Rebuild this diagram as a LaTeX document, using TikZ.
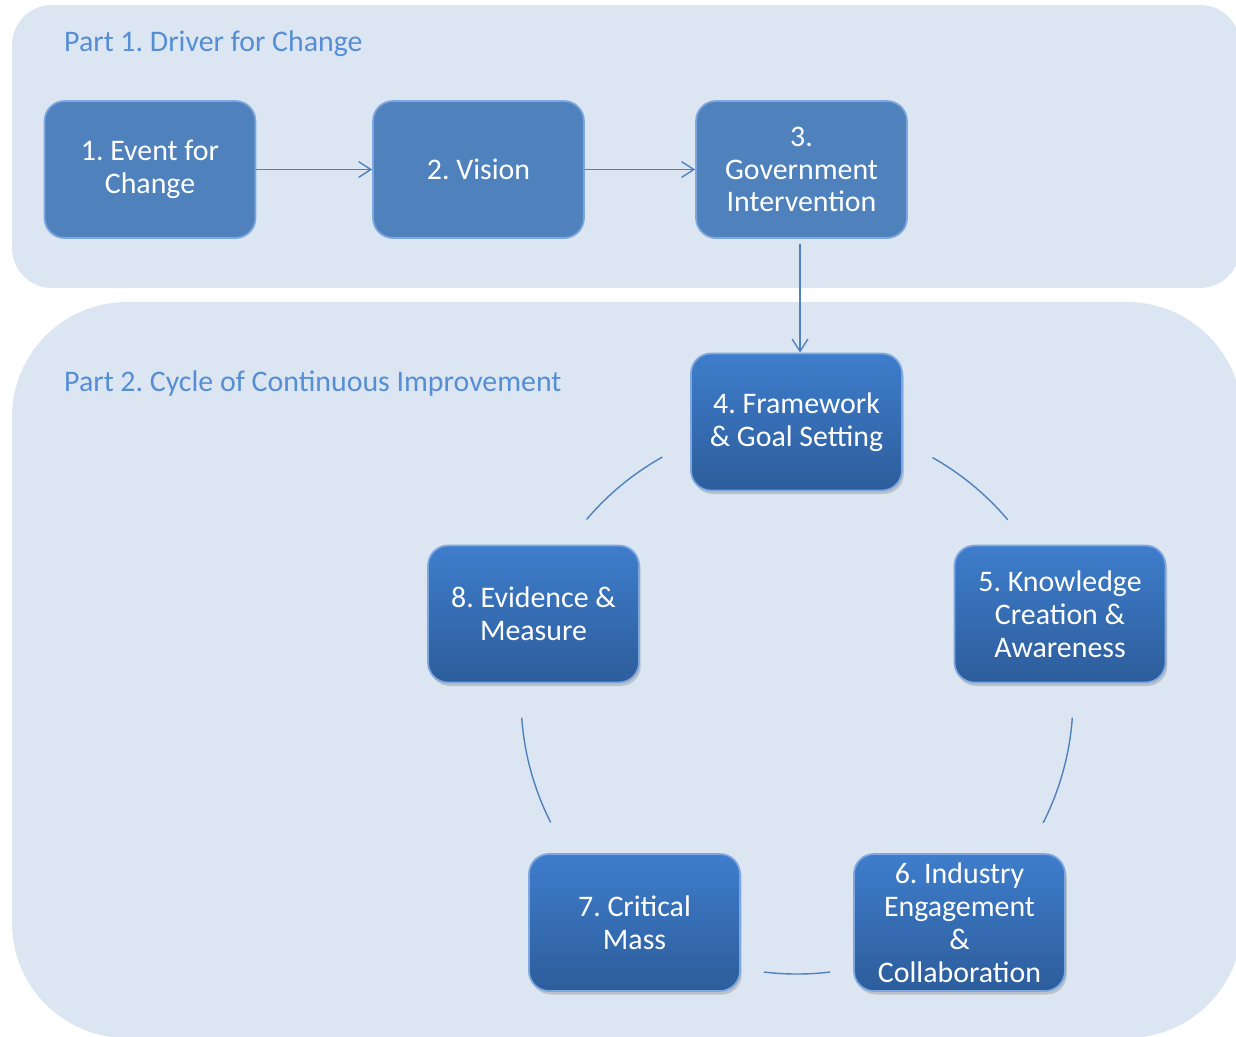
\documentclass[tikz,border=0pt]{standalone}
\usepackage{fontspec}
\setmainfont{Carlito}
\frenchspacing
\usetikzlibrary{arrows.meta, shadows}
\definecolor{panelbg}{RGB}{220,230,242}
\definecolor{titleblue}{RGB}{85,142,213}
\definecolor{boxblue}{RGB}{79,129,189}
\definecolor{boxedge}{RGB}{125,167,222}
\definecolor{cycletop}{RGB}{62,125,204}
\definecolor{cyclebot}{RGB}{45,93,155}
\definecolor{linkblue}{RGB}{79,129,189}
\tikzset{
  panel/.style={fill=panelbg},
  parttitle/.style={anchor=west, text=titleblue, font=\fontsize{17}{19}\selectfont},
  drivebox/.style={rectangle, rounded corners=0.4cm, minimum width=4.22cm, minimum height=2.74cm,
    fill=boxblue, draw=boxedge, line width=1pt, text=white, align=center,
    font=\fontsize{17}{18.7}\selectfont, inner sep=1pt},
  cyclebox/.style={drivebox, top color=cycletop, bottom color=cyclebot,
    drop shadow={opacity=0.35, shadow xshift=1pt, shadow yshift=-2pt}},
  link/.style={draw=linkblue, line width=0.8pt},
  flow/.style={link, -{Straight Barb[length=7pt, width=9pt]}}
}

\begin{document}
\begin{tikzpicture}[x=0.02cm, y=-0.02cm]
\useasboundingbox (0,0) rectangle (1236,1036);
% the two panels
\fill[panel, rounded corners=0.8cm] (12,5) rectangle (1240,288);
\fill[panel, rounded corners=2.3cm] (12,302) rectangle (1242,1038);
\node[parttitle] (t1) at (58,44) {Part 1. Driver for Change};
\node[parttitle] (t2) at (58,384) {Part 2. Cycle of Continuous Improvement};

% part 1
\node[drivebox] (b1) at (150,169.5) {1. Event for\\Change};
\node[drivebox] (b2) at (478.5,169.5) {2. Vision};
\node[drivebox] (b3) at (801.5,169.5) {3.\\Government\\Intervention};

% part 2
\node[cyclebox] (b4) at (796.5,422) {4. Framework\\\& Goal Setting};
\node[cyclebox] (b5) at (1060,614) {5. Knowledge\\Creation \&\\Awareness};
\node[cyclebox] (b6) at (959.5,922.5) {6. Industry\\Engagement\\\&\\Collaboration};
\node[cyclebox] (b7) at (634.5,922.5) {7. Critical\\Mass};
\node[cyclebox] (b8) at (533.5,614) {8. Evidence \&\\Measure};

\draw[flow] (b1) -- (b2);
\draw[flow] (b2) -- (b3);
\draw[flow, shorten <=3pt] ([xshift=-0.03cm]b3.south) -- ([xshift=-0.03cm]b3.south |- b4.north);

% cycle arcs
\coordinate (hub) at (797,698);
\draw[link] ([shift={(-60.6:276)}]hub) arc[start angle=-60.6, end angle=-40.2, radius=276];
\draw[link] ([shift={(4.1:276)}]hub) arc[start angle=4.1, end angle=26.9, radius=276];
\draw[link] ([shift={(83.1:276)}]hub) arc[start angle=83.1, end angle=96.9, radius=276];
\draw[link] ([shift={(153.2:276)}]hub) arc[start angle=153.2, end angle=175.9, radius=276];
\draw[link] ([shift={(220.3:276)}]hub) arc[start angle=220.3, end angle=240.8, radius=276];
\end{tikzpicture}
\end{document}
